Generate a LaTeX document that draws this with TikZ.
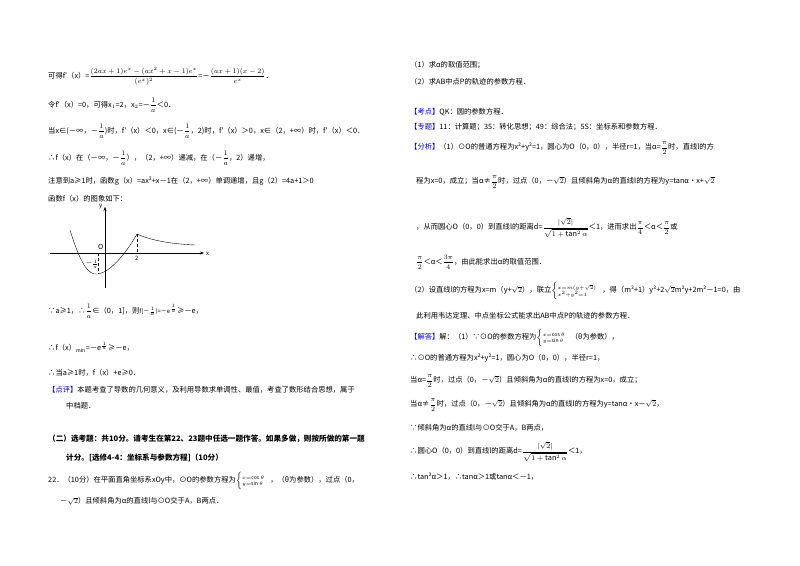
\documentclass[tikz,border=0pt]{standalone}
\usepackage{fontspec}
\usepackage{amsmath}
\usetikzlibrary{arrows.meta}
\setmainfont{Noto Sans CJK SC}
\newcommand{\bl}[1]{\textcolor{blue!80!black}{#1}}
\newcommand{\fr}[2]{\ensuremath{\dfrac{#1}{#2}}}
\begin{document}
\begin{tikzpicture}[x=1pt,y=-1pt,
  t/.style={anchor=west,inner sep=0pt,font=\fontsize{7.3}{9}\selectfont},
  b/.style={t,font=\fontsize{7.6}{9}\selectfont\bfseries}]
\useasboundingbox (0,0) rectangle (800,565);
% left column
\node[t] (l1) at (48,76) {可得f′（x）=$\dfrac{(2ax+1)e^x-(ax^2+x-1)e^x}{(e^x)^2}$=－$\dfrac{(ax+1)(x-2)}{e^x}$．};
\node[t] (l2) at (48,105) {令f′（x）=0，可得x$_1$=2，x$_2$=－\fr{1}{a}＜0．};
\node[t] (l3) at (48,131) {当x∈(－∞，－\fr{1}{a})时，f′（x）＜0，x∈(－\fr{1}{a}，2)时，f′（x）＞0，x∈（2，+∞）时，f′（x）＜0．};
\node[t] (l4) at (48,158) {∴f（x）在（－∞，－\fr{1}{a}），（2，+∞）递减，在（－\fr{1}{a}，2）递增，};
\node[t] (l5) at (48,181) {注意到a≥1时，函数g（x）=ax²+x－1在（2，+∞）单调递增，且g（2）=4a+1＞0};
\node[t] (l6) at (48,199) {函数f（x）的图象如下：};
% graph
\coordinate (xa) at (50,253); \coordinate (xb) at (204,253);
\coordinate (ya) at (105,288); \coordinate (yb) at (105,207);
\draw[-{Stealth[length=4pt]}] (xa) -- (xb);
\draw[-{Stealth[length=4pt]}] (ya) -- (yb);
\node[t,font=\fontsize{6}{7}\selectfont\itshape] (xl) at (206,254) {x};
\node[t,font=\fontsize{6}{7}\selectfont\itshape] (yl) at (99,207) {y};
\node[t,font=\fontsize{7}{8}\selectfont\itshape] (o) at (98,247) {O};
\draw[thin] (70,230) .. controls (80,262) and (88,276) .. (98,274)
  .. controls (110,272) and (125,255) .. (137,234)
  .. controls (150,240) and (170,244) .. (195,245);
\draw[densely dashed] (98,253) -- (98,274);
\draw[densely dashed] (137,234) -- (137,253);
\node[t,font=\fontsize{6}{7}\selectfont] (m1) at (86,264) {－$\tfrac{1}{a}$};
\node[t,font=\fontsize{6}{7}\selectfont] (two) at (135,258) {2};
\node[t] (l7) at (48,311) {∵a≥1，∴\fr{1}{a}∈（0，1]，则{\fontsize{6}{7}\selectfont f(－$\tfrac{1}{a}$)=－e$^{\frac{1}{a}}$}≥－e，};
\node[t] (l8) at (48,347) {∴f（x）$_{\min}$=－e$^{\frac{1}{a}}$≥－e，};
\node[t] (l9) at (48,373) {∴当a≥1时，f（x）+e≥0．};
\node[t] (l10) at (48,390) {\bl{【点评】}本题考查了导数的几何意义，及利用导数求单调性、最值，考查了数形结合思想，属于};
\node[t] (l11) at (66,406) {中档题．};
\node[b] (l12) at (48,439) {（二）选考题：共10分。请考生在第22、23题中任选一题作答。如果多做，则按所做的第一题};
\node[b] (l13) at (66,458) {计分。[选修4-4：坐标系与参数方程]（10分）};
\node[t] (l14) at (48,481) {22．（10分）在平面直角坐标系xOy中，⊙O的参数方程为$\left\{\begin{array}{@{}l}\scriptstyle x=\cos\theta\\[-3pt]\scriptstyle y=\sin\theta\end{array}\right.$，（θ为参数），过点（0，};
\node[t] (l15) at (60,501) {－$\sqrt{2}$）且倾斜角为α的直线l与⊙O交于A，B两点．};
% right column
\node[t] (r1) at (410,65) {（1）求α的取值范围；};
\node[t] (r2) at (410,82) {（2）求AB中点P的轨迹的参数方程．};
\node[t] (r3) at (410,112) {\bl{【考点】}QK：圆的参数方程．};
\node[t] (r4) at (410,127) {\bl{【专题】}11：计算题；35：转化思想；49：综合法；5S：坐标系和参数方程．};
\node[t] (r5) at (410,148) {\bl{【分析】}（1）⊙O的普通方程为x²+y²=1，圆心为O（0，0），半径r=1，当α=\fr{\pi}{2}时，直线l的方};
\node[t] (r6) at (416,182) {程为x=0，成立；当α≠\fr{\pi}{2}时，过点（0，－$\sqrt{2}$）且倾斜角为α的直线l的方程为y=tanα•x+$\sqrt{2}$};
\node[t] (r7) at (416,228) {，从而圆心O（0，0）到直线l的距离d=$\dfrac{|\sqrt{2}|}{\sqrt{1+\tan^2\alpha}}$＜1，进而求出\fr{\pi}{4}＜α＜\fr{\pi}{2}或};
\node[t] (r8) at (416,262) {\fr{\pi}{2}＜α＜\fr{3\pi}{4}，由此能求出α的取值范围．};
\node[t] (r9) at (410,291) {（2）设直线l的方程为x=m（y+$\sqrt{2}$），联立$\left\{\begin{array}{@{}l}\scriptstyle x=m(y+\sqrt{2})\\[-2pt]\scriptstyle x^2+y^2=1\end{array}\right.$，得（m²+1）y²+2$\sqrt{2}$m²y+2m²－1=0，由};
\node[t] (r10) at (416,316) {此利用韦达定理、中点坐标公式能求出AB中点P的轨迹的参数方程．};
\node[t] (r11) at (410,338) {\bl{【解答】}解：（1）∵⊙O的参数方程为$\left\{\begin{array}{@{}l}\scriptstyle x=\cos\theta\\[-3pt]\scriptstyle y=\sin\theta\end{array}\right.$（θ为参数），};
\node[t] (r12) at (410,358) {∴⊙O的普通方程为x²+y²=1，圆心为O（0，0），半径r=1，};
\node[t] (r13) at (410,381) {当α=\fr{\pi}{2}时，过点（0，－$\sqrt{2}$）且倾斜角为α的直线l的方程为x=0，成立；};
\node[t] (r14) at (410,405) {当α≠\fr{\pi}{2}时，过点（0，－$\sqrt{2}$）且倾斜角为α的直线l的方程为y=tanα•x－$\sqrt{2}$，};
\node[t] (r15) at (410,428) {∵倾斜角为α的直线l与⊙O交于A，B两点，};
\node[t] (r16) at (410,452) {∴圆心O（0，0）到直线l的距离d=$\dfrac{|\sqrt{2}|}{\sqrt{1+\tan^2\alpha}}$＜1，};
\node[t] (r17) at (410,477) {∴tan²α＞1，∴tanα＞1或tanα＜－1，};
\end{tikzpicture}
\end{document}
